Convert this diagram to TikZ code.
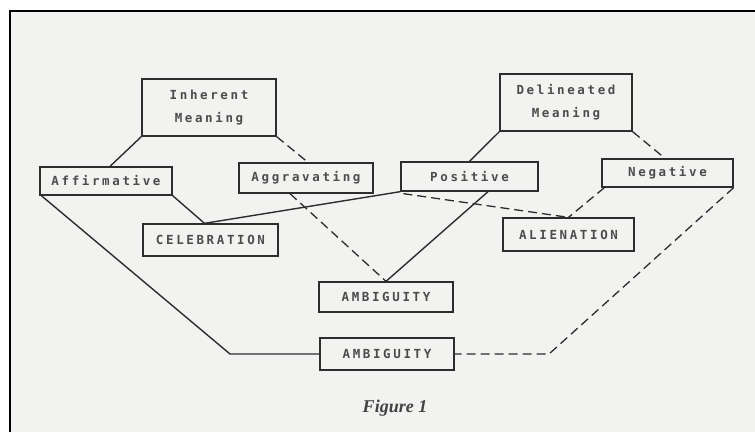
\documentclass[tikz,border=0pt]{standalone}
\usepackage{fontspec}
\setmainfont{Liberation Serif}
\newfontfamily\boxfont[LetterSpace=21]{DejaVu Sans Mono Bold}
\usetikzlibrary{calc}
\definecolor{ink}{RGB}{45,45,45}
\definecolor{paper}{RGB}{242,242,240}
\tikzset{
  every picture/.style={x=1pt,y=-1pt},
  box/.style={draw=ink, line width=1.3pt, text=ink!85, inner sep=0pt, align=center,
              font=\boxfont\fontsize{12.5}{23}\selectfont},
  link/.style={draw=ink, line width=1.4pt},
  dlink/.style={link, line width=1.3pt, dash pattern=on 9pt off 5pt},
}
\begin{document}
\begin{tikzpicture}
\useasboundingbox (0,0) rectangle (755,432);
\fill[white] (0,0) rectangle (755,432);
\fill[paper] (10,11) rectangle (755,432);
\draw[line width=2.5pt, black] (10,432) -- (10,11) -- (755,11);

\node[box, minimum width=134pt, minimum height=57pt] (im) at (209,107.5) {Inherent\\Meaning};
\node[box, minimum width=132pt, minimum height=28pt] (af) at (106,181) {Affirmative};
\node[box, minimum width=134pt, minimum height=30pt] (ag) at (306,178) {Aggravating};
\node[box, minimum width=132pt, minimum height=57pt] (dm) at (566,102.5) {Delineated\\Meaning};
\node[box, minimum width=137pt, minimum height=29pt] (po) at (469.5,176.5) {Positive};
\node[box, minimum width=131pt, minimum height=28pt] (ne) at (667.5,173) {Negative};
\node[box, minimum width=135pt, minimum height=32pt] (ce) at (210.5,240) {CELEBRATION};
\node[box, minimum width=134pt, minimum height=30pt] (am1) at (386,297) {AMBIGUITY};
\node[box, minimum width=134pt, minimum height=32pt] (am2) at (387,354) {AMBIGUITY};
\node[box, minimum width=131pt, minimum height=33pt] (al) at (568.5,234.5) {ALIENATION};
\node[font=\bfseries\itshape\fontsize{18}{20}\selectfont, text=ink!90] (fig) at (395,408) {Figure 1};

\coordinate (jc) at ($(ce.north)+(-6,0)$);
\coordinate (c1) at (230,354);
\coordinate (c2) at (549,354);

\draw[link] (im.south west) -- ($(af.north)+(4,0)$);
\draw[dlink] (im.south east) -- ($(ag.north)+(2,0)$);
\draw[link] ($(af.south west)+(2,0)$) -- (c1) -- (am2.west);
\draw[link] (af.south east) -- (jc) -- (po.south west);
\draw[dlink] ($(ag.south)+(-16,0)$) -- (am1.north);
\draw[link] ($(po.south)+(18.5,0)$) -- (am1.north);
\draw[dlink] ($(po.south west)+(3,2)$) -- (al.north);
\draw[link] (dm.south west) -- (po.north);
\draw[dlink] (dm.south east) -- ($(ne.north)+(-2.5,0)$);
\draw[dlink] ($(ne.south west)+(3,0)$) -- (al.north);
\draw[dlink] (ne.south east) -- (c2) -- (am2.east);
\end{tikzpicture}
\end{document}
